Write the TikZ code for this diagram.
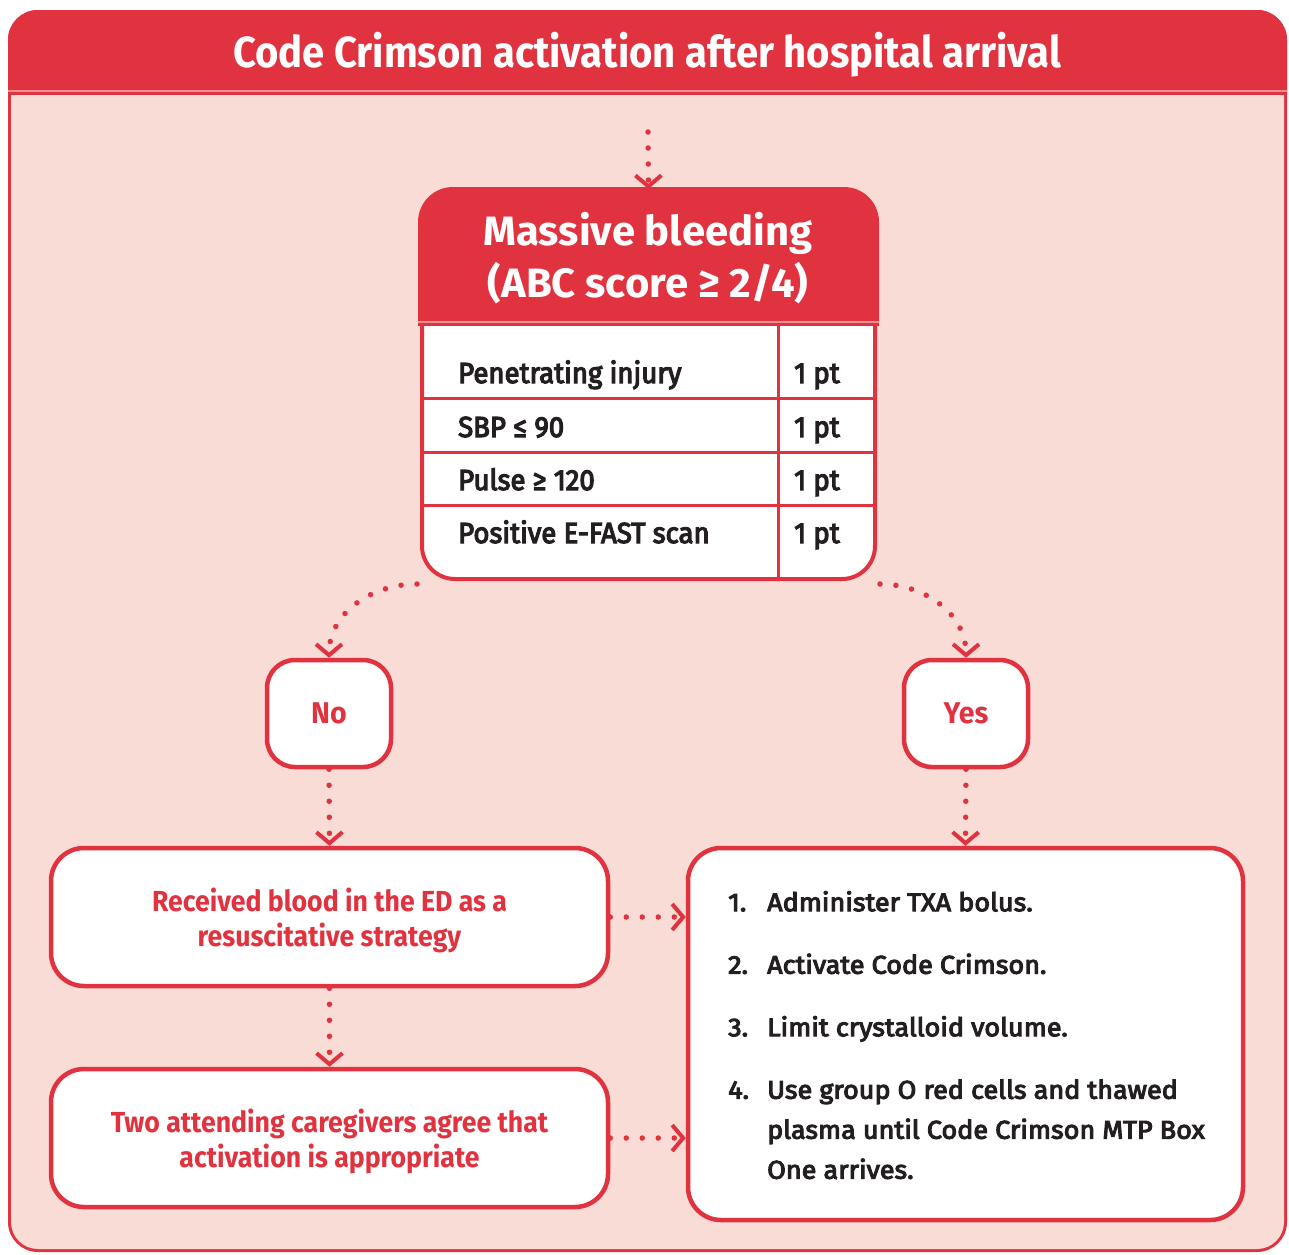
\documentclass[tikz,border=0pt]{standalone}
\usepackage{fontspec}
\setmainfont{Fira Sans}
\newfontfamily\hfont[FakeStretch=0.92]{Fira Sans}
\newfontfamily\mfont[FakeStretch=1.02]{Fira Sans}
\newfontfamily\nfont[FakeStretch=0.95]{Fira Sans}
\newfontfamily\tfont[FakeStretch=0.95,FakeBold=4]{Fira Sans}
\newfontfamily\lfont[FakeStretch=1.05,FakeBold=4]{Fira Sans}
\usetikzlibrary{arrows.meta}
\definecolor{crim}{HTML}{E1323F}
\definecolor{blush}{HTML}{F8DCD5}
\definecolor{ink}{HTML}{231F20}
\tikzset{
  dotarrow/.style={crim, line width=5.5pt, line cap=round, dash pattern=on 0pt off 16pt,
    -{Straight Barb[length=11pt,width=26pt,line width=4pt]}},
  choice/.style={draw=crim, line width=4.5pt, fill=white, rounded corners=28pt,
    minimum width=124pt, minimum height=107pt, inner sep=0pt, text=crim,
    font=\nfont\bfseries\fontsize{30}{36}\selectfont},
  redbox/.style={draw=crim, line width=4.5pt, fill=white, rounded corners=33pt,
    minimum width=557pt, minimum height=138pt, inner sep=0pt, text=crim, align=center,
    text depth=0pt, font=\hfont\bfseries\fontsize{29}{35.5}\selectfont},
  rowtext/.style={anchor=base west, inner sep=0pt, text=ink, font=\tfont\fontsize{29}{35}\selectfont},
}
\begin{document}
\begin{tikzpicture}[x=1pt,y=-1pt]
\useasboundingbox (0,0) rectangle (1289,1254);
% outer frame
\fill[crim, rounded corners=30pt] (8,10) rectangle (1287,1252);
\fill[blush, rounded corners=27pt] (11,13) rectangle (1284,1249);
\begin{scope}
  \clip[rounded corners=30pt] (8,10) rectangle (1287,1252);
  \fill[crim] (0,0) rectangle (1289,89.5);
  \fill[crim!55!white] (0,89.5) rectangle (1289,91.5);
  \fill[crim] (0,91.5) rectangle (1289,94.5);
\end{scope}
\node[anchor=base, inner sep=0pt, text=white, font=\hfont\bfseries\fontsize{43.5}{50}\selectfont]
  (title) at (647,67) {Code Crimson activation after hospital arrival};

% massive bleeding box
\node[draw=crim, line width=4pt, fill=white, rounded corners=33pt,
  minimum width=453pt, minimum height=388pt, inner sep=0pt] (mb) at (648.5,385) {};
\begin{scope}
  \clip[rounded corners=35pt] ([shift={(-2pt,2pt)}]mb.north west) rectangle ([shift={(2pt,-2pt)}]mb.south east);
  \fill[crim] (400,180) rectangle (900,320.5);
  \fill[crim!55!white] (400,320.5) rectangle (900,322.5);
  \fill[crim] (400,322.5) rectangle (900,326);
\end{scope}
\node[anchor=base, inner sep=0pt, text=white, font=\mfont\bfseries\fontsize{41}{52}\selectfont]
  (mbt1) at (648,245) {Massive bleeding};
\node[anchor=base, inner sep=0pt, text=white, font=\mfont\bfseries\fontsize{41}{52}\selectfont]
  (mbt2) at (648,297) {(ABC score ≥ 2/4)};
\draw[crim, line width=3pt] (424,398) -- (873,398) (424,452) -- (873,452) (424,505) -- (873,505);
\draw[crim, line width=3pt] (778,326) -- (778,577);
\node[rowtext] (r1) at (458,383) {Penetrating injury};
\node[rowtext] (r2) at (458,437) {SBP ≤ 90};
\node[rowtext] (r3) at (458,490) {Pulse ≥ 120};
\node[rowtext] (r4) at (458,543) {Positive E-FAST scan};
\node[rowtext] (p1) at (794,383) {1 pt};
\node[rowtext] (p2) at (794,437) {1 pt};
\node[rowtext] (p3) at (794,490) {1 pt};
\node[rowtext] (p4) at (794,543) {1 pt};

% choices
\node[choice] (no) at (329,713.5) {No};
\node[choice] (yes) at (966,713.5) {Yes};

% outcome boxes
\node[redbox] (rec) at (329.5,917) {Received blood in the ED as a\\resuscitative strategy};
\node[redbox] (two) at (329.5,1138) {Two attending caregivers agree that\\activation is appropriate};
\node[draw=crim, line width=4.5pt, fill=white, rounded corners=33pt,
  minimum width=555pt, minimum height=372pt, inner sep=0pt] (steps) at (965.5,1034) {};
\node[anchor=north west, inner sep=0pt, text=ink, font=\lfont\fontsize{25.7}{40}\selectfont]
  (items) at (728,883) {\renewcommand\arraystretch{1}\begin{tabular}{@{}l@{}l@{}}
  \makebox[39pt][l]{1.} & Administer TXA bolus.\\[22.5pt]
  \makebox[39pt][l]{2.} & Activate Code Crimson.\\[22.5pt]
  \makebox[39pt][l]{3.} & Limit crystalloid volume.\\[22.5pt]
  \makebox[39pt][l]{4.} & Use group O red cells and thawed\\
   & plasma until Code Crimson MTP Box\\
   & One arrives.
  \end{tabular}};

% connectors
\coordinate (entry) at (648,132);
\draw[dotarrow] (entry) -- (mb.north);
\draw[dotarrow] ([shift={(-3pt,-3pt)}]mb.south west) to[out=180,in=90] (no.north);
\draw[dotarrow] ([shift={(3pt,-3pt)}]mb.south east) to[out=0,in=90] (yes.north);
\draw[dotarrow] (no.south) -- (rec.north);
\draw[dotarrow] (yes.south) -- (steps.north);
\draw[dotarrow] (rec.south) -- (two.north);
\draw[dotarrow] (rec.east) -- (rec.east -| steps.west);
\draw[dotarrow] (two.east) -- (two.east -| steps.west);
\end{tikzpicture}
\end{document}
